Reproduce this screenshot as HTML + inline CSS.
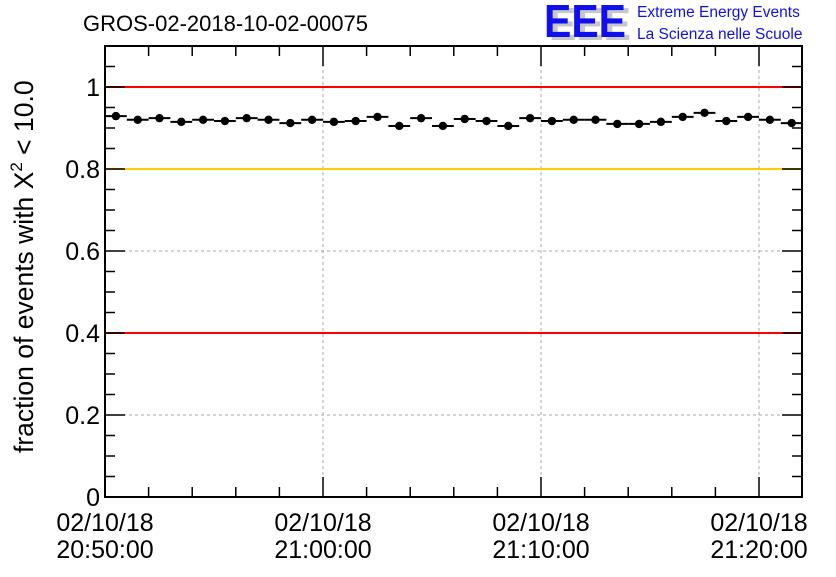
<!DOCTYPE html>
<html><head><meta charset="utf-8"><style>
body{margin:0;background:#fff;font-family:"Liberation Sans",sans-serif}
svg text{font-family:"Liberation Sans",sans-serif}
</style></head><body>
<svg id="c" width="836" height="572" xmlns="http://www.w3.org/2000/svg">
<rect width="836" height="572" fill="#fff"/>
<text x="83" y="31" font-size="22">GROS-02-2018-10-02-00075</text>
<g>
<text x="549" y="40" font-size="46" font-weight="bold" fill="#c8c8c8" textLength="82" lengthAdjust="spacingAndGlyphs">EEE</text>
<text x="544" y="37" font-size="46" font-weight="bold" fill="#1010ee" textLength="82" lengthAdjust="spacingAndGlyphs">EEE</text>
<text x="637" y="17" font-size="15.5" fill="#1010ee">Extreme Energy Events</text>
<text x="637" y="39" font-size="15.5" fill="#1010ee">La Scienza nelle Scuole</text>
</g>
<g id="grid"></g><g id="lines"></g><g id="marks"></g><g id="axes"></g>
<text transform="translate(33,453) rotate(-90)" font-size="26.5">fraction of events with Χ<tspan font-size="17" dy="-11">2</tspan><tspan dy="11"> &lt; 10.0</tspan></text>
</svg>
<script>
const values=[0.929,0.920,0.924,0.915,0.920,0.917,0.924,0.920,0.912,0.920,0.915,0.917,0.927,0.905,0.924,0.905,0.922,0.917,0.905,0.924,0.917,0.920,0.920,0.910,0.910,0.915,0.927,0.937,0.917,0.927,0.920,0.912];
const yTicks=[0,0.2,0.4,0.6,0.8,1];
const yTickLabels=["0","0.2","0.4","0.6","0.8","1"];
const xTicksMin=[0,10,20,30];
const xTickLabels=[["02/10/18","20:50:00"],["02/10/18","21:00:00"],["02/10/18","21:10:00"],["02/10/18","21:20:00"]];
const refLines=[[1,"#ff0000"],[0.8,"#ffcc00"],[0.4,"#ff0000"]];
const L=105,R=802,T=46,B=497,xMax=(R-L)/21.8;
const X=m=>L+m*21.8, Y=v=>B-v*410;
const NS="http://www.w3.org/2000/svg";
function mk(p,t,a){const e=document.createElementNS(NS,t);for(const k in a)e.setAttribute(k,a[k]);document.getElementById(p).appendChild(e);return e;}
yTicks.forEach(v=>{if(v>0&&v<1){const e=mk("grid","line",{x1:L,x2:R,y1:Y(v),y2:Y(v),stroke:"#aaa","stroke-dasharray":"3,3"});

}});
xTicksMin.forEach(m=>{if(m>0){const e=mk("grid","line",{x1:X(m),x2:X(m),y1:T,y2:B,stroke:"#aaa","stroke-dasharray":"3,3"});

}});
refLines.forEach(r=>{const e=mk("lines","line",{x1:L,x2:R,y1:Y(r[0]),y2:Y(r[0]),stroke:r[1],"stroke-width":2});

});
values.forEach((v,i)=>{
const h=mk("marks","line",{x1:X(i),x2:X(i+1),y1:Y(v),y2:Y(v),stroke:"#000","stroke-width":2});


const c=mk("marks","circle",{cx:X(i+0.5),cy:Y(v),r:4.2,fill:"#000"});


});
const f=mk("axes","rect",{x:L,y:T,width:R-L,height:B-T,fill:"none",stroke:"#000","stroke-width":2});


for(let v=0;v<=1.1001;v+=0.05){const maj=Math.abs(v/0.2-Math.round(v/0.2))<1e-6;const len=maj?20:10;
const t=mk("axes","line",{x1:L,x2:L+len,y1:Y(v),y2:Y(v),stroke:"#000","stroke-width":1.5});


const t2=mk("axes","line",{x1:R,x2:R-len,y1:Y(v),y2:Y(v),stroke:"#000","stroke-width":1.5});

}
yTicks.forEach((v,i)=>{const t=mk("axes","text",{x:L-5,y:Y(v)+9,"font-size":25,"text-anchor":"end"});t.textContent=yTickLabels[i];

});
for(let m=0;m<=xMax;m+=2){const maj=m%10===0;const len=maj?20:10;
const t=mk("axes","line",{x1:X(m),x2:X(m),y1:B,y2:B-len,stroke:"#000","stroke-width":1.5});


const t2=mk("axes","line",{x1:X(m),x2:X(m),y1:T,y2:T+len,stroke:"#000","stroke-width":1.5});

}
xTicksMin.forEach((m,i)=>{[0,1].forEach(k=>{const t=mk("axes","text",{x:X(m),y:531+k*27,"font-size":25,"text-anchor":"middle"});t.textContent=xTickLabels[i][k];

});});
</script>
</body></html>
